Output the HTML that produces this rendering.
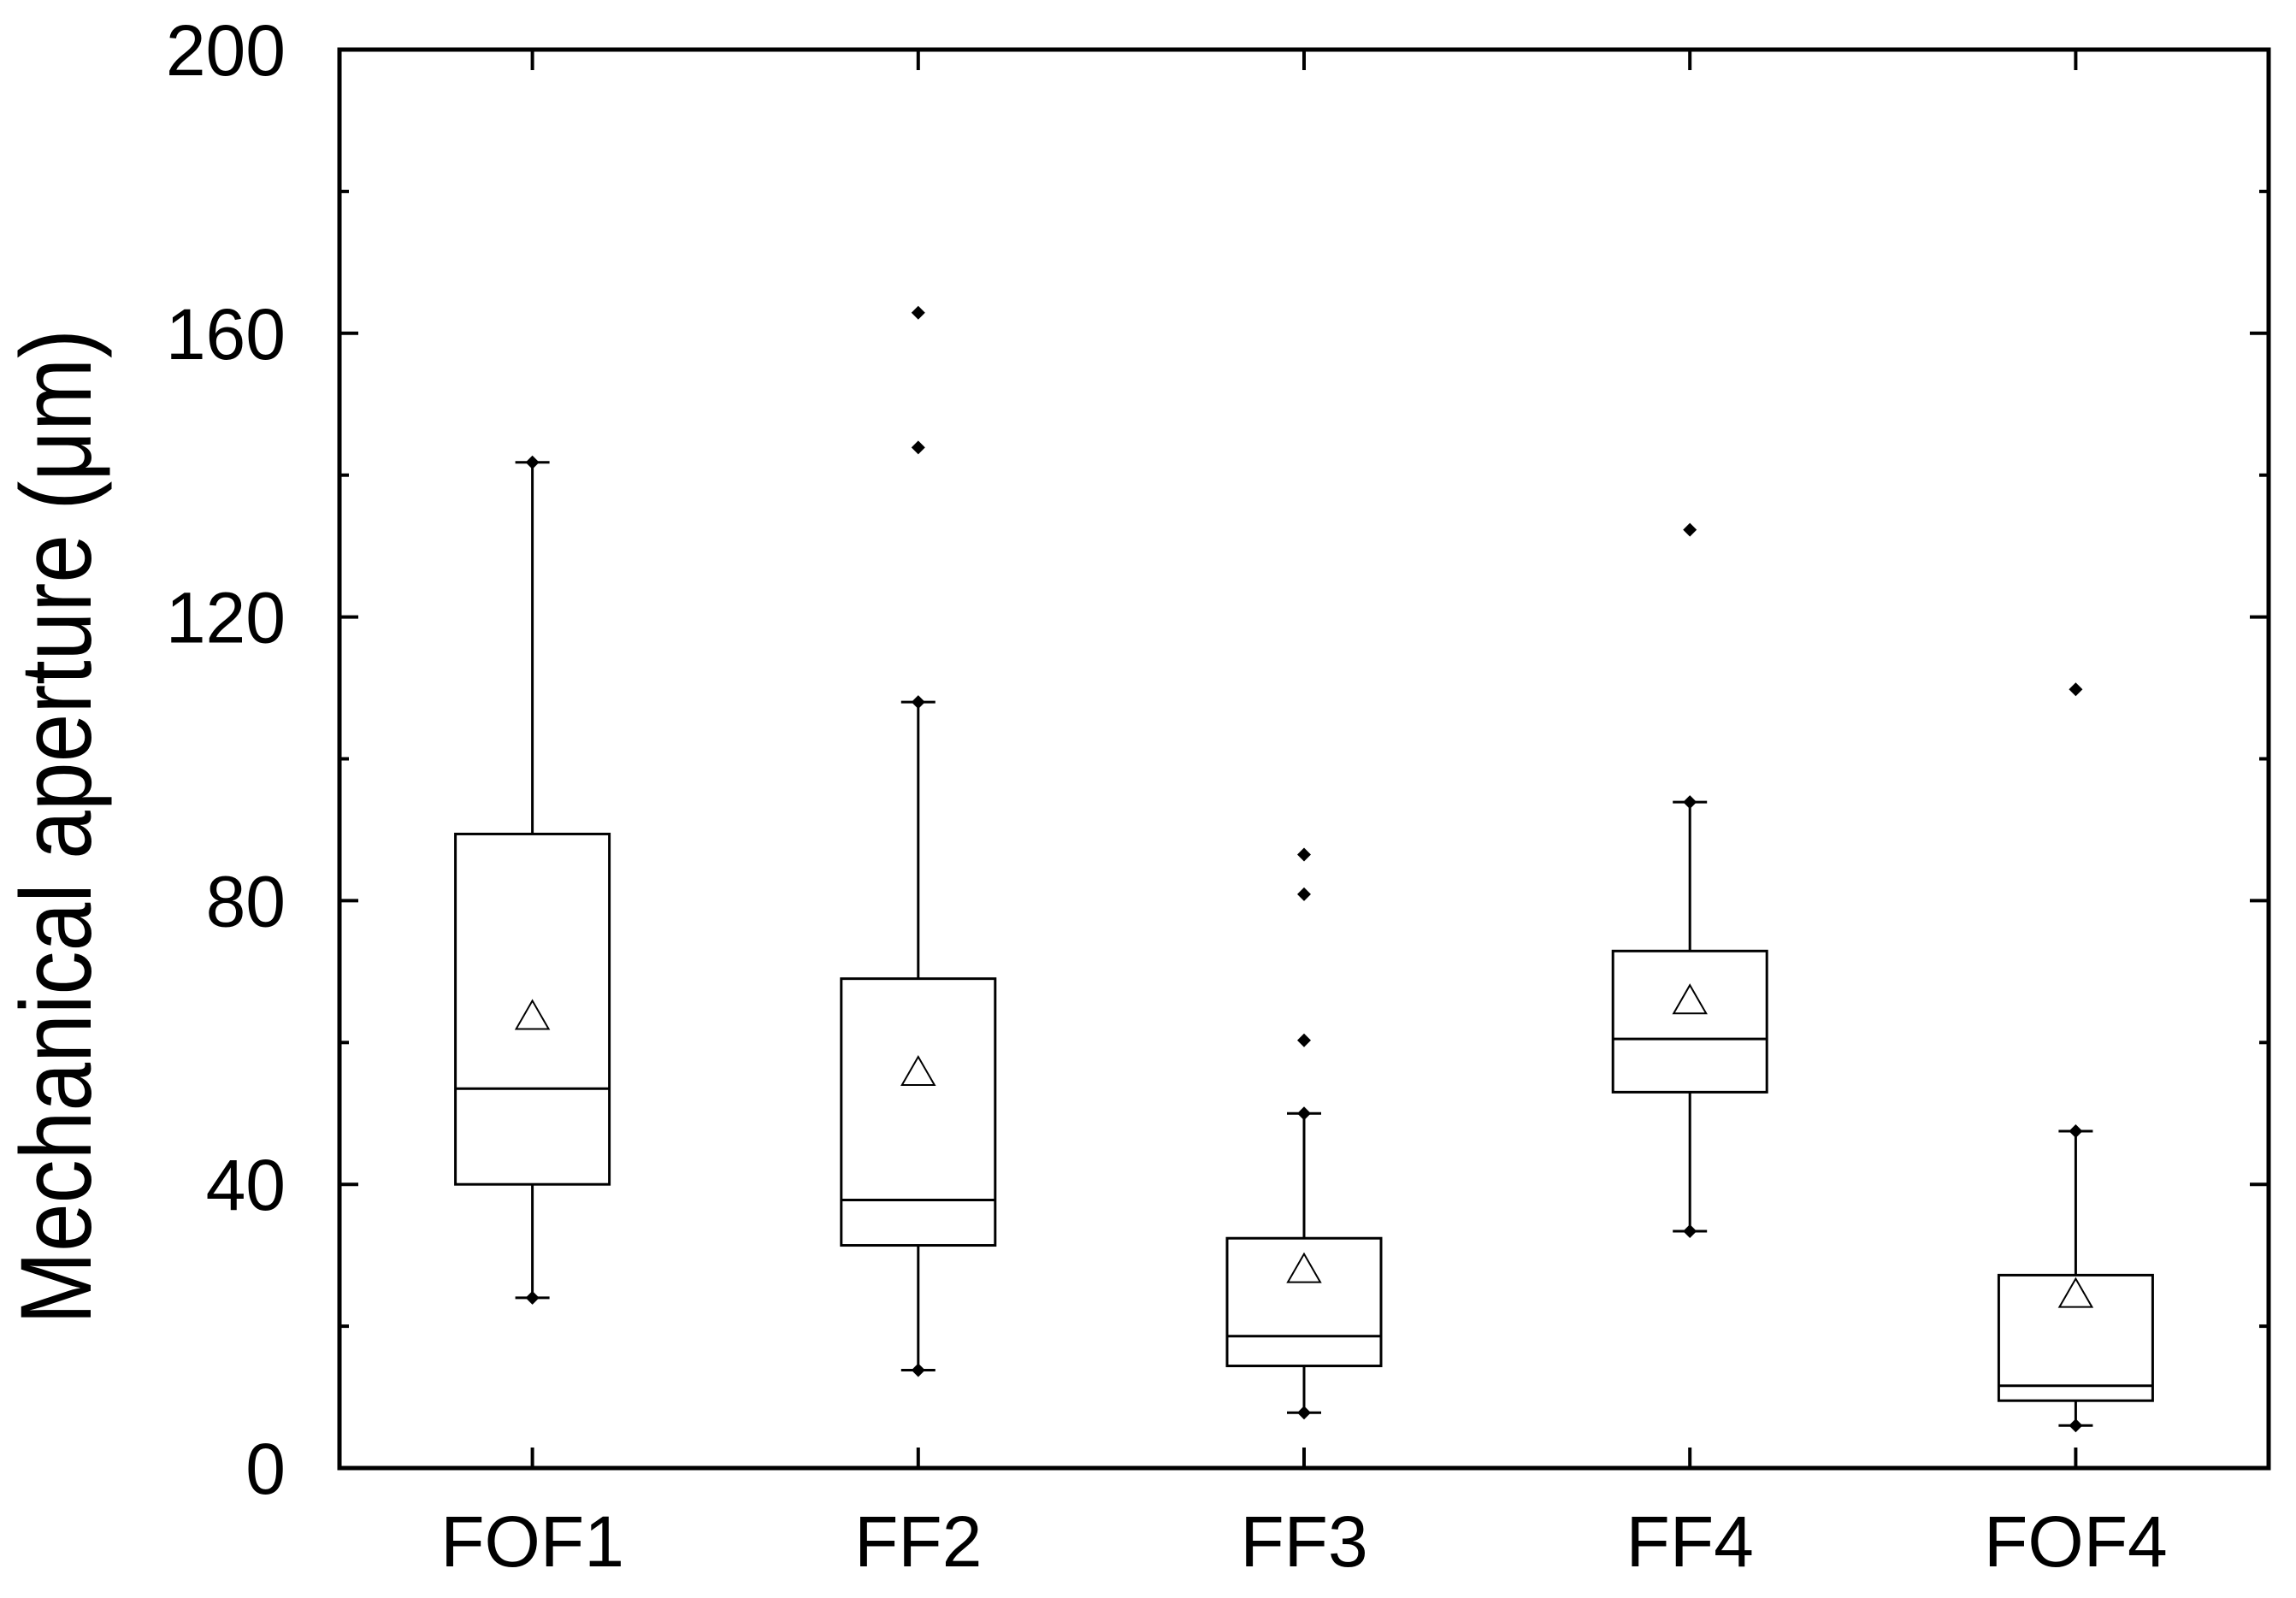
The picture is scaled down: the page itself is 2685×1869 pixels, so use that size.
<!DOCTYPE html>
<html><head><meta charset="utf-8"><style>
html,body{margin:0;padding:0;background:#fff}
svg{display:block}
text{font-family:"Liberation Sans Narrow","Liberation Sans",sans-serif;fill:#000}
</style></head><body>
<svg id="chart" width="2685" height="1869" viewBox="0 0 2685 1869" xmlns="http://www.w3.org/2000/svg">
<g id="plot"></g>
<text x="106" y="967" transform="rotate(-90 106 967)" text-anchor="middle" font-size="118" textLength="1164" lengthAdjust="spacingAndGlyphs" style="font-family:'Liberation Sans',sans-serif">Mechanical aperture (μm)</text>
</svg>
<script>
const categories = ["FOF1","FF2","FF3","FF4","FOF4"];
const whiskerHigh = [141.8,108,50,93.9,47.5];
const q3 = [89.4,69,32.4,72.9,27.2];
const median = [53.5,37.8,18.6,60.5,11.6];
const q1 = [40,31.4,14.4,53,9.5];
const whiskerLow = [24,13.8,7.8,33.4,6];
const means = [63.6,55.7,27.9,65.8,24.4];
const outliers = [[],[162.9,143.9],[86.5,80.9,60.3],[132.3],[109.8]];
const yTicks = [0,40,80,120,160,200];
const yMinor = [20,60,100,140,180];

const L=397,R=2653,T=58,B=1717,yMax=200;
const NS="http://www.w3.org/2000/svg";
const g=document.getElementById('plot');
const y=v=>B-(v/yMax)*(B-T);
const x=i=>L+(i+0.5)*(R-L)/categories.length;
function mk(tag,attrs,parent){const e=document.createElementNS(NS,tag);for(const k in attrs)e.setAttribute(k,attrs[k]);(parent||g).appendChild(e);return e;}

const frame=mk('rect',{x:L,y:T,width:R-L,height:B-T,fill:'none',stroke:'#000','stroke-width':5});



yTicks.forEach(v=>{
  const t1=mk('line',{x1:L,x2:L+22,y1:y(v),y2:y(v),stroke:'#000','stroke-width':4});
  
  
  const t2=mk('line',{x1:R-22,x2:R,y1:y(v),y2:y(v),stroke:'#000','stroke-width':4});
  
  
  const lb=mk('text',{x:334,y:y(v)+30,'text-anchor':'end','font-size':84});
  lb.textContent=v;
  
  
});
yMinor.forEach(v=>{
  const t1=mk('line',{x1:L,x2:L+11,y1:y(v),y2:y(v),stroke:'#000','stroke-width':4});
  
  
  const t2=mk('line',{x1:R-11,x2:R,y1:y(v),y2:y(v),stroke:'#000','stroke-width':4});
  
  
});

function diamond(cx,cy,name){
  const s=8;
  const d=mk('polygon',{points:`${cx},${cy-s} ${cx+s},${cy} ${cx},${cy+s} ${cx-s},${cy}`,fill:'#000'});
  
  
}

categories.forEach((c,i)=>{
  const cx=x(i),hw=90,cap=20;
  const tb=mk('line',{x1:cx,x2:cx,y1:B,y2:B-24,stroke:'#000','stroke-width':4});
  
  
  const tt=mk('line',{x1:cx,x2:cx,y1:T,y2:T+24,stroke:'#000','stroke-width':4});
  
  
  const lb=mk('text',{x:cx,y:1832,'text-anchor':'middle','font-size':84});
  lb.textContent=c;
  
  

  const wu=mk('line',{x1:cx,x2:cx,y1:y(whiskerHigh[i]),y2:y(q3[i]),stroke:'#000','stroke-width':3});
  
  
  const wl=mk('line',{x1:cx,x2:cx,y1:y(q1[i]),y2:y(whiskerLow[i]),stroke:'#000','stroke-width':3});
  
  
  const cu=mk('line',{x1:cx-cap,x2:cx+cap,y1:y(whiskerHigh[i]),y2:y(whiskerHigh[i]),stroke:'#000','stroke-width':3});
  
  
  const cl=mk('line',{x1:cx-cap,x2:cx+cap,y1:y(whiskerLow[i]),y2:y(whiskerLow[i]),stroke:'#000','stroke-width':3});
  
  
  diamond(cx,y(whiskerHigh[i]),'whisker-end-marker');
  diamond(cx,y(whiskerLow[i]),'whisker-end-marker');

  const bx=mk('rect',{x:cx-hw,y:y(q3[i]),width:2*hw,height:y(q1[i])-y(q3[i]),fill:'#fff',stroke:'#000','stroke-width':3});
  
  
  const md=mk('line',{x1:cx-hw,x2:cx+hw,y1:y(median[i]),y2:y(median[i]),stroke:'#000','stroke-width':3});
  
  
  const my=y(means[i]);
  const tr=mk('polygon',{points:`${cx},${my-19} ${cx+19},${my+14} ${cx-19},${my+14}`,fill:'#fff',stroke:'#000','stroke-width':2});
  
  
  outliers[i].forEach(v=>diamond(cx,y(v),'outlier-point'));
});
</script>
</body></html>
